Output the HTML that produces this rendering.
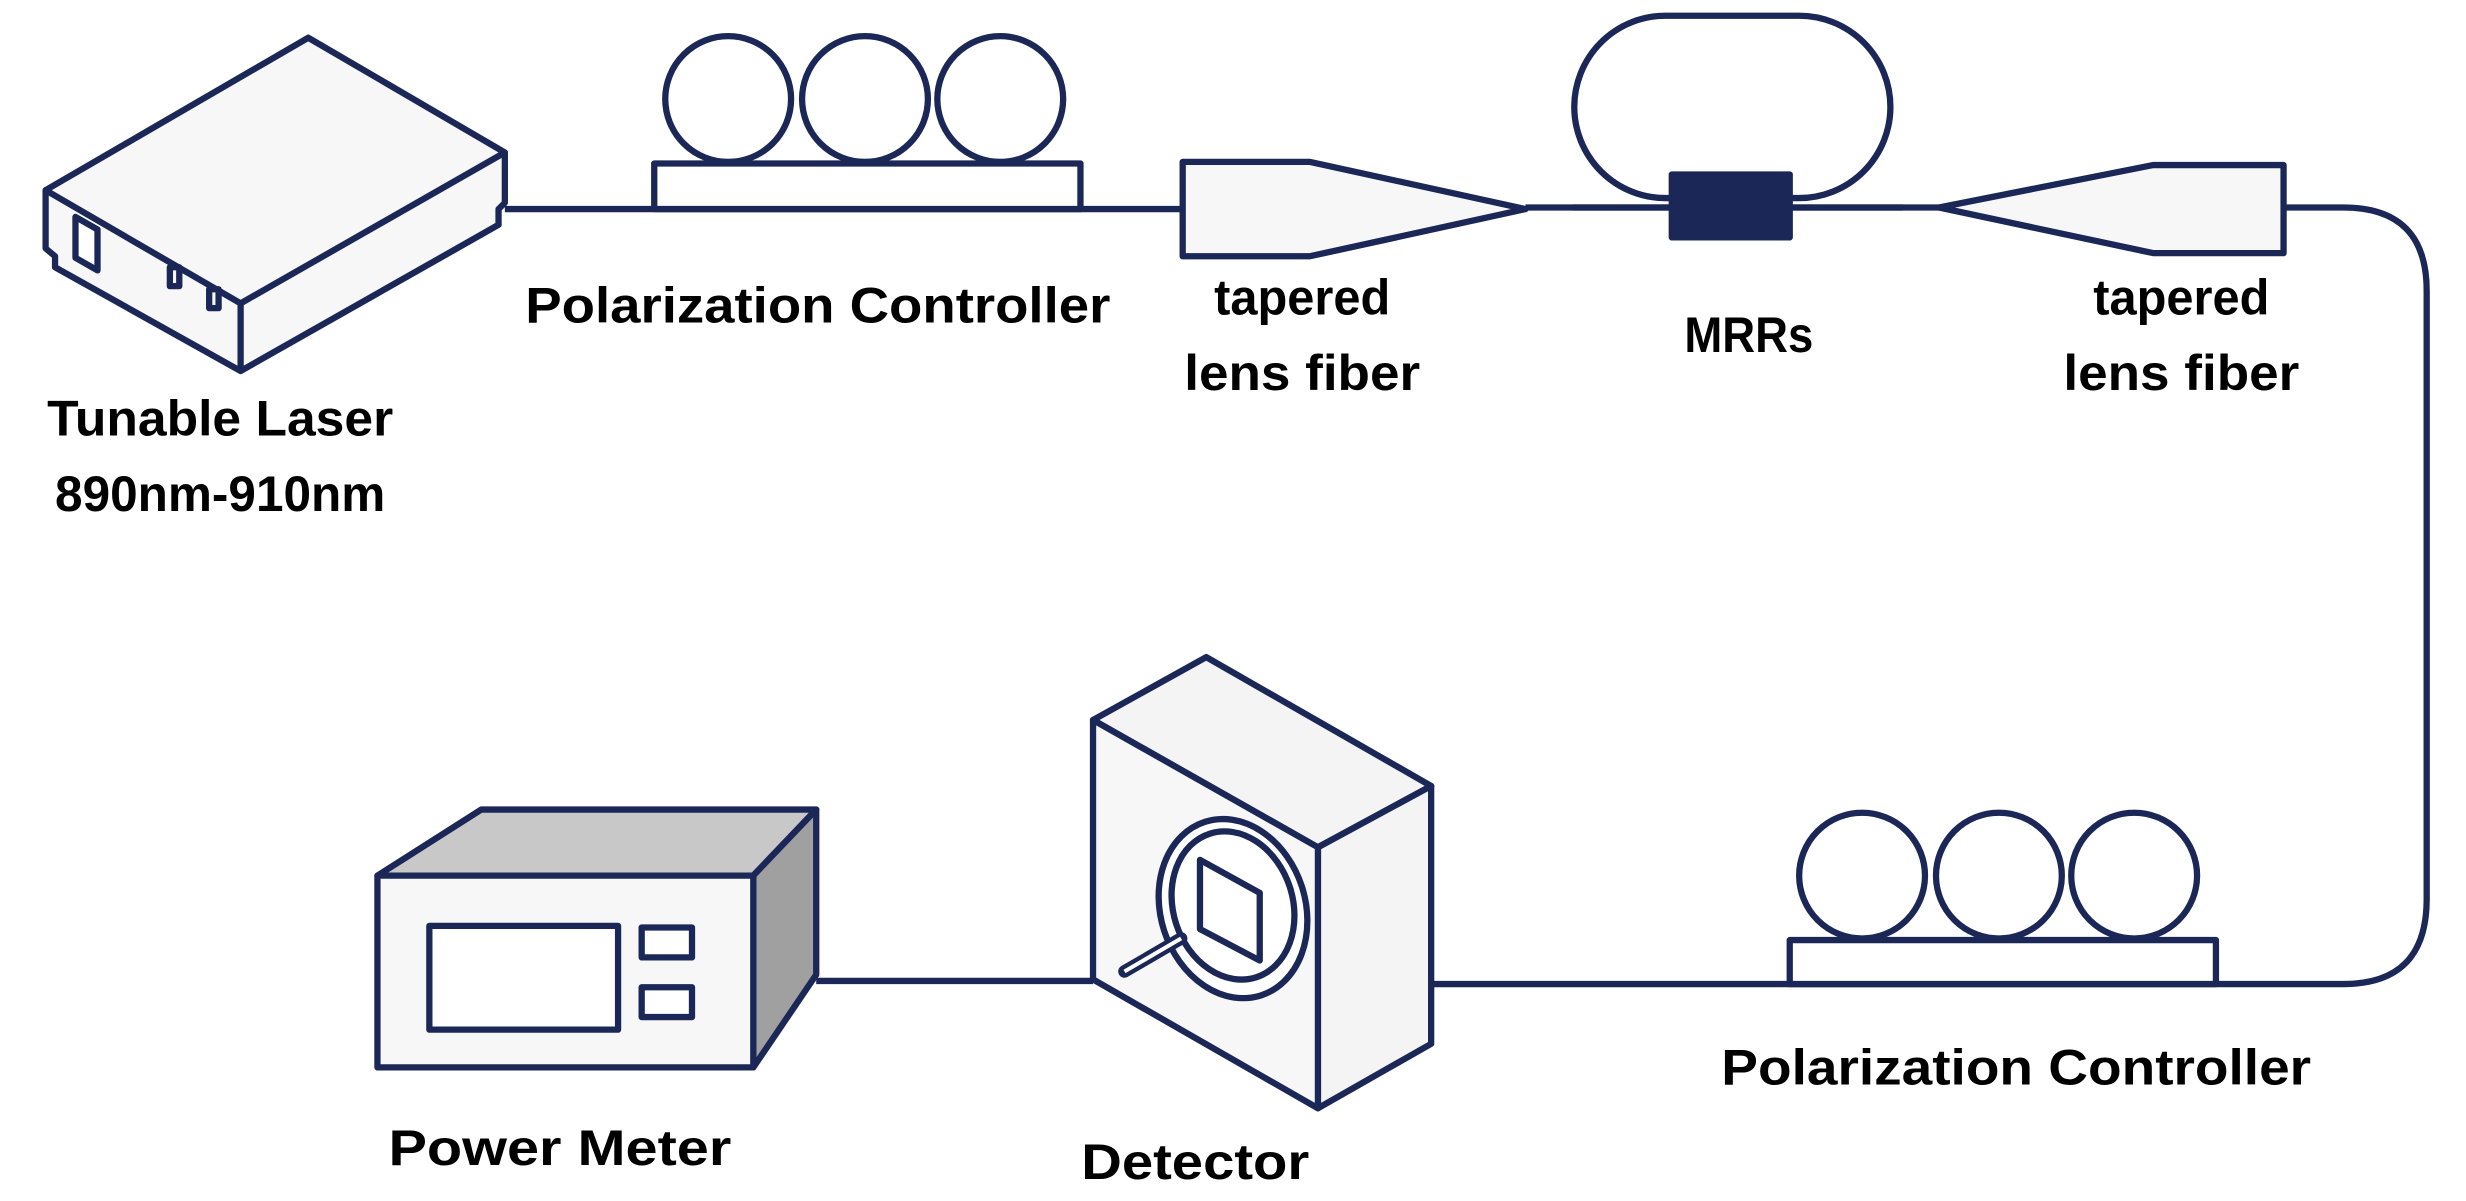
<!DOCTYPE html>
<html><head><meta charset="utf-8"><style>
html,body{margin:0;padding:0;background:#fff;}
svg{display:block;}
text{font-family:"Liberation Sans",sans-serif;font-weight:bold;fill:#000;}
</style></head><body>
<svg width="2466" height="1201" viewBox="0 0 1568 764" preserveAspectRatio="none" xmlns="http://www.w3.org/2000/svg">
<g stroke="#1b2857" stroke-width="4" fill="none" stroke-linejoin="round">
<line x1="321" y1="133" x2="754" y2="133"/>
<line x1="970" y1="132" x2="1235" y2="132"/>
<path d="M1452 132 H1490 Q1543 132 1543 185 V572 Q1543 626 1490 626 H910"/>
<line x1="519" y1="624" x2="695" y2="624"/>
<polygon points="29,121 196,24 321,97 321,129 317,133 317,143 153,236 35,170 35,163 29,158" fill="#f7f7f7"/>
<polyline points="29,121 153,193 321,97"/>
<line x1="153" y1="193" x2="153" y2="236"/>
<polygon points="48,138 62,146 62,172 48,164" fill="#fff"/>
<rect x="108" y="170" width="6" height="12"/>
<rect x="133" y="184" width="6" height="12"/>
<rect x="416" y="104" width="271" height="29" fill="#fff"/>
<circle cx="463" cy="63" r="40"/><circle cx="550" cy="63" r="40"/><circle cx="636" cy="63" r="40"/>
<polygon points="752,103 833,103 970,133 833,163 752,163" fill="#f7f7f7"/>
<rect x="1001" y="10" width="201" height="116" rx="58" ry="58" fill="#fff"/>
<line x1="1000" y1="132" x2="1210" y2="132"/>
<rect x="1063" y="111" width="75" height="40" fill="#1b2857"/>
<polygon points="1233,132 1369,105 1452,105 1452,161 1369,161" fill="#f7f7f7"/>
<rect x="1138" y="598" width="271" height="28" fill="#fff"/>
<circle cx="1184" cy="557" r="40"/><circle cx="1271" cy="557" r="40"/><circle cx="1357" cy="557" r="40"/>
<polygon points="240,557 306,515 519,515 479,557" fill="#c8c8c8"/>
<polygon points="479,557 519,515 519,620 479,679" fill="#a0a0a0"/>
<rect x="240" y="557" width="239" height="122" fill="#f7f7f7"/>
<rect x="273" y="589" width="120" height="66" fill="#fff"/>
<rect x="408" y="590" width="32" height="19" fill="#fff"/>
<rect x="408" y="628" width="32" height="19" fill="#fff"/>
<polygon points="695,458 767,418 910,500 838,539" fill="#f4f4f4"/>
<polygon points="838,539 910,500 910,664 838,705" fill="#f4f4f4"/>
<polygon points="695,458 838,539 838,705 695,623" fill="#f7f7f7"/>
<ellipse cx="784" cy="578" rx="46" ry="58" transform="rotate(-18 784 578)" fill="#fff"/>
<ellipse cx="784" cy="576" rx="38" ry="48" transform="rotate(-18 784 576)"/>
<polygon points="763,547 801,568 801,611 763,591" fill="#fff"/>
<line x1="751" y1="597" x2="715" y2="618" stroke-width="8" stroke-linecap="round"/>
<line x1="751" y1="597" x2="715" y2="618" stroke="#fff" stroke-width="2.5"/>
</g>
<g font-size="32">
<text x="140" y="277" text-anchor="middle" textLength="220" lengthAdjust="spacingAndGlyphs">Tunable Laser</text>
<text x="140" y="325" text-anchor="middle" textLength="210" lengthAdjust="spacingAndGlyphs">890nm-910nm</text>
<text x="520" y="205" text-anchor="middle" textLength="372" lengthAdjust="spacingAndGlyphs">Polarization Controller</text>
<text x="828" y="200" text-anchor="middle" textLength="112" lengthAdjust="spacingAndGlyphs">tapered</text>
<text x="828" y="248" text-anchor="middle" textLength="150" lengthAdjust="spacingAndGlyphs">lens fiber</text>
<text x="1112" y="224" text-anchor="middle" textLength="82" lengthAdjust="spacingAndGlyphs">MRRs</text>
<text x="1387" y="200" text-anchor="middle" textLength="112" lengthAdjust="spacingAndGlyphs">tapered</text>
<text x="1387" y="248" text-anchor="middle" textLength="150" lengthAdjust="spacingAndGlyphs">lens fiber</text>
<text x="1282" y="690" text-anchor="middle" textLength="375" lengthAdjust="spacingAndGlyphs">Polarization Controller</text>
<text x="356" y="741" text-anchor="middle" textLength="218" lengthAdjust="spacingAndGlyphs">Power Meter</text>
<text x="760" y="750" text-anchor="middle" textLength="145" lengthAdjust="spacingAndGlyphs">Detector</text>
</g>
</svg>
</body></html>
